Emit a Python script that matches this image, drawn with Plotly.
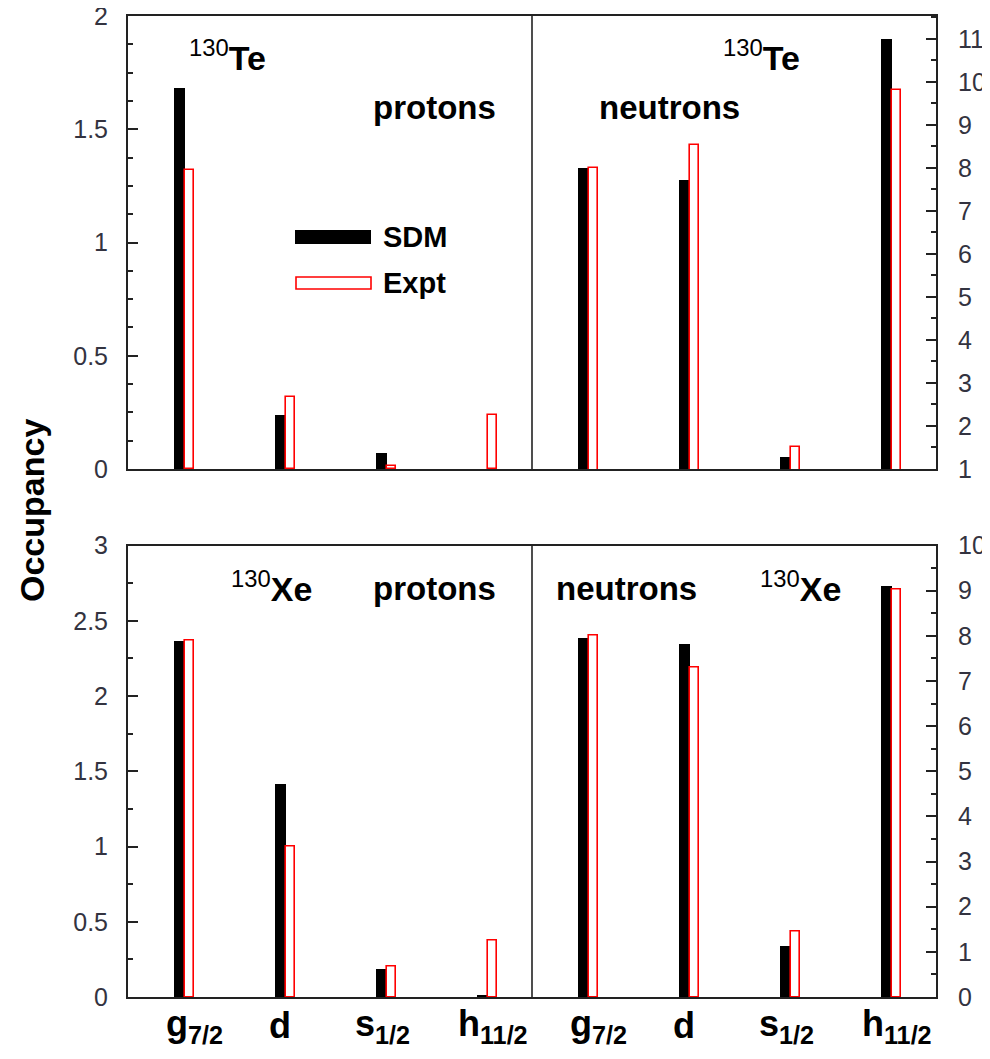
import plotly.graph_objects as go

# ---------------- data ----------------
orbitals = ["g<sub>7/2</sub>", "d", "s<sub>1/2</sub>", "h<sub>11/2</sub>"]
pos_protons = [0.56, 1.56, 2.56, 3.56]
pos_neutrons = [4.56, 5.56, 6.56, 7.56]

te_p_sdm = [1.68, 0.24, 0.07, 0.0]
te_p_exp = [1.32, 0.32, 0.012, 0.24]
te_n_sdm = [8.0, 7.71, 1.29, 11.0]
te_n_exp = [8.0, 8.52, 1.52, 9.80]

xe_p_sdm = [2.37, 1.42, 0.19, 0.018]
xe_p_exp = [2.37, 1.0, 0.20, 0.377]
xe_n_sdm = [7.96, 7.84, 1.13, 9.12]
xe_n_exp = [8.0, 7.29, 1.44, 9.02]

# ---------------- styling ----------------
FONT = "Liberation Sans, Arial, sans-serif"
TICKCOL = "#333340"
AXCOL = "#222222"
OFF = 8                      # browser default body margin
PAGE_W, PAGE_H = 990, 1059
W, H = PAGE_W - OFF, PAGE_H - OFF
AX_L, AX_R, AX_T, AX_B = 128, 936, 16, 997      # plot area in page pixels
L, R, T, B = AX_L - OFF, PAGE_W - AX_R, AX_T - OFF, PAGE_H - AX_B
PLOT_H = AX_B - AX_T
top_bot_px, bot_top_px = 469, 545.5
top_dom = [(AX_B - top_bot_px) / PLOT_H, 1.0]
bot_dom = [0.0, (AX_B - bot_top_px) / PLOT_H]
label_shift = [10, -6, -4, 5]   # horizontal nudge (px) of the orbital labels

fig = go.Figure()


def add_pair(x, sdm, exp, xa, ya):
    fig.add_trace(go.Bar(x=x, y=sdm, xaxis=xa, yaxis=ya, width=0.1, offset=-0.1,
                         marker=dict(color="black", line=dict(width=0)),
                         showlegend=False))
    fig.add_trace(go.Bar(x=x, y=exp, xaxis=xa, yaxis=ya, width=0.088, offset=0.005,
                         marker=dict(color="white", line=dict(color="#ff0000", width=1.6)),
                         showlegend=False))


add_pair(pos_protons, te_p_sdm, te_p_exp, "x", "y")
add_pair(pos_neutrons, te_n_sdm, te_n_exp, "x", "y2")
add_pair(pos_protons, xe_p_sdm, xe_p_exp, "x2", "y3")
add_pair(pos_neutrons, xe_n_sdm, xe_n_exp, "x2", "y4")

tickfont = dict(family=FONT, size=25, color=TICKCOL)


def yax(rng, dtick, minor, side, domain=None, overlay=None, anchor=None):
    d = dict(range=rng, dtick=dtick, tick0=0, ticks="inside", ticklen=10, tickwidth=1.5,
             tickcolor=AXCOL, showline=True, linecolor=AXCOL, linewidth=2,
             showgrid=False, zeroline=False, side=side, tickfont=tickfont,
             minor=dict(dtick=minor, tick0=0, ticks="inside", ticklen=5,
                        tickwidth=1.5, tickcolor=AXCOL, showgrid=False),
             ticklabelstandoff=13 if side == "left" else 15,
             ticklabeloverflow="allow",
             fixedrange=True, automargin=False)
    if domain is not None:
        d["domain"] = domain
    if overlay is not None:
        d["overlaying"] = overlay
    if anchor is not None:
        d["anchor"] = anchor
    return d


fig.update_layout(
    width=W, height=H,
    margin=dict(l=L, r=R, t=T, b=B, autoexpand=False),
    paper_bgcolor="white", plot_bgcolor="white",
    barmode="overlay", bargap=0,
    font=dict(family=FONT, color="black"),
    xaxis=dict(domain=[0, 1], range=[0, 8], anchor="y", showticklabels=False, ticks="",
               showline=True, linecolor=AXCOL, linewidth=2, mirror=True,
               showgrid=False, zeroline=False, automargin=False),
    xaxis2=dict(domain=[0, 1], range=[0, 8], anchor="y3", ticks="", showticklabels=False,
                automargin=False,
                showline=True, linecolor=AXCOL, linewidth=2, mirror=True,
                showgrid=False, zeroline=False),
    yaxis=yax([0, 2], 0.5, 0.125, "left", domain=top_dom, anchor="x"),
    yaxis2=yax([1, 11.53], 1, 0.5, "right", overlay="y", anchor="x"),
    yaxis3=yax([0, 3], 0.5, 0.25, "left", domain=bot_dom, anchor="x2"),
    yaxis4=yax([0, 10], 1, 0.5, "right", overlay="y3", anchor="x2"),
)

# divider lines between protons / neutrons halves
for xr, yr in [("x", "y domain"), ("x2", "y3 domain")]:
    fig.add_shape(type="line", xref=xr, yref=yr, x0=4, x1=4, y0=0, y1=1,
                  line=dict(color=AXCOL, width=1.6))


def px2paper_y(y):
    return (AX_B - y) / PLOT_H


def px2paper_x(x):
    return (x - AX_L) / (AX_R - AX_L)


# orbital labels under the bottom axis (placed at the category positions)
for positions in (pos_protons, pos_neutrons):
    for xv, lab, sh in zip(positions, orbitals, label_shift):
        fig.add_annotation(text="<b>" + lab + "</b>", x=xv, xref="x2",
                           y=px2paper_y(1026), yref="paper", xanchor="center",
                           yanchor="middle", xshift=sh, showarrow=False,
                           font=dict(family=FONT, size=36, color="black"))


def ann(text, x, y, size, xanchor="left", **kw):
    fig.add_annotation(text=text, x=px2paper_x(x), y=px2paper_y(y), xref="paper", yref="paper",
                       xanchor=xanchor, yanchor="middle", showarrow=False,
                       font=dict(family=FONT, size=size, color="black"), **kw)


# panel labels
ann("<sup>130</sup><b>Te</b>", 187, 55, 34)
ann("<sup>130</sup><b>Te</b>", 721, 55, 34)
ann("<b>protons</b>", 371, 108, 33)
ann("<b>neutrons</b>", 597, 108, 33)
ann("<sup>130</sup><b>Xe</b>", 229, 586, 34)
ann("<sup>130</sup><b>Xe</b>", 758, 586, 34)
ann("<b>protons</b>", 371, 588, 33)
ann("<b>neutrons</b>", 554, 588, 33)

# legend (drawn manually to mimic wide swatches)
fig.add_shape(type="rect", xref="paper", yref="paper",
              x0=px2paper_x(295), x1=px2paper_x(371), y0=px2paper_y(244), y1=px2paper_y(230),
              fillcolor="black", line=dict(width=0))
fig.add_shape(type="rect", xref="paper", yref="paper",
              x0=px2paper_x(296), x1=px2paper_x(371), y0=px2paper_y(289), y1=px2paper_y(277),
              fillcolor="white", line=dict(color="#ff0000", width=1.6))
ann("<b>SDM</b>", 381, 237, 29)
ann("<b>Expt</b>", 381, 283, 29)

# y-axis title
fig.add_annotation(text="<b>Occupancy</b>", x=px2paper_x(32), y=px2paper_y(511),
                   xref="paper", yref="paper", xanchor="center", yanchor="middle",
                   textangle=-90, showarrow=False,
                   font=dict(family=FONT, size=34, color="black"))

fig.write_html("out.html")
